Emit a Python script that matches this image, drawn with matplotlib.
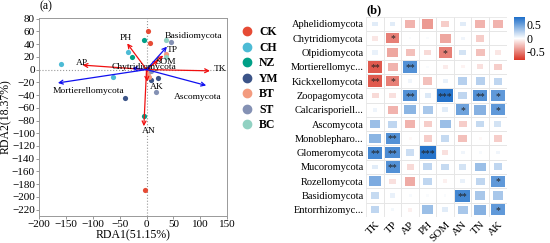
import numpy as np
import matplotlib
matplotlib.use('Agg')
import matplotlib.pyplot as plt
from matplotlib.colors import LinearSegmentedColormap, Normalize
from matplotlib.patches import Rectangle
from matplotlib.lines import Line2D

plt.rcParams['font.family'] = ['Liberation Serif', 'DejaVu Serif']

# ---- dados do painel (a): RDA ----
groups = ['CK', 'CH', 'NZ', 'YM', 'BT', 'ST', 'BC']
group_colors = ['#E64B35', '#4DBBD5', '#00A087', '#3C5488', '#F39B7F', '#8491B4', '#91D1C2']
pts_x = {
    'CK': [3, 7, -2],
    'CH': [-160, -35, -62],
    'NZ': [-5, -27, -5],
    'YM': [-41, 8, 22],
    'BT': [36, 3, 4],
    'ST': [46, 17, 8],
    'BC': [36, 37, 5],
}
pts_y = {
    'CK': [61, 42, -189],
    'CH': [8, 28, -12],
    'NZ': [46, 20, -73],
    'YM': [-44, -16, -14],
    'BT': [25, -6, -12],
    'ST': [43, -36, -3],
    'BC': [46, 20, 2],
}

env_names = ['TK', 'AP', 'PH', 'TP', 'SOM', 'AN', 'AK', 'TN']
env_x = [118, -119, -36, 31, 22, -5, 1, 8]
env_y = [-2, 7, 41, 22, 15, -89, -19, 3]
env_lab_x = [136, -120, -38, 48, 36, 5, 19, None]
env_lab_y = [1, 11, 50, 30, 12, -97, -27, None]

phy_names = ['Basidiomycota', 'Ascomycota', 'Mortierellomycota', 'Chytridiomycota']
phy_x = [38, 111, -165, -27]
phy_y = [36, -25, -21, 2]
phy_lab_x = [87, 95, -108, -5]
phy_lab_y = [53, -43, -33, 4]

# ---- dados do painel (b): correlacoes ----
phyla = ['Aphelidiomycota', 'Chytridiomycota', 'Olpidiomycota', 'Mortierellomyc...',
         'Kickxellomycota', 'Zoopagomycota', 'Calcarisporiell...', 'Ascomycota',
         'Monoblepharo...', 'Glomeromycota', 'Mucoromycota', 'Rozellomycota',
         'Basidiomycota', 'Entorrhizomyc...']
factors = ['TK', 'TP', 'AP', 'PH', 'SOM', 'AN', 'TN', 'AK']
corr = np.array([
    [0.10, 0.10, -0.30, -0.40, -0.20, 0.10, -0.30, -0.30],
    [-0.10, -0.50, 0.02, 0.02, -0.35, 0.05, -0.20, 0.00],
    [0.08, -0.35, -0.25, -0.15, -0.50, 0.15, -0.25, -0.10],
    [-0.65, -0.30, 0.60, 0.02, -0.08, -0.05, -0.12, -0.20],
    [-0.65, -0.50, 0.05, -0.25, 0.08, 0.25, 0.25, 0.22],
    [-0.15, -0.12, 0.60, 0.12, 0.75, 0.22, 0.60, 0.55],
    [0.06, -0.30, 0.40, 0.30, 0.10, 0.50, 0.42, 0.55],
    [0.35, 0.22, -0.30, -0.20, 0.35, -0.20, 0.20, 0.15],
    [0.40, 0.60, -0.03, -0.20, 0.20, -0.25, -0.03, -0.20],
    [0.65, 0.62, 0.18, 0.75, -0.12, 0.05, 0.03, 0.05],
    [0.10, 0.60, -0.15, 0.22, 0.20, 0.15, 0.35, 0.22],
    [0.45, -0.12, -0.33, 0.22, -0.06, 0.08, 0.22, 0.55],
    [0.20, 0.08, 0.03, 0.02, 0.02, 0.65, 0.30, 0.30],
    [0.22, 0.04, -0.06, 0.35, 0.10, 0.30, 0.42, 0.55],
])
signif = [
    ['', '', '', '', '', '', '', ''],
    ['', '*', '', '', '', '', '', ''],
    ['', '', '', '', '*', '', '', ''],
    ['**', '', '**', '', '', '', '', ''],
    ['**', '*', '', '', '', '', '', ''],
    ['', '', '**', '', '***', '', '**', '*'],
    ['', '', '', '', '', '*', '', '*'],
    ['', '', '', '', '', '', '', ''],
    ['', '**', '', '', '', '', '', ''],
    ['**', '**', '', '***', '', '', '', ''],
    ['', '**', '', '', '', '', '', ''],
    ['', '', '', '', '', '', '', '*'],
    ['', '', '', '', '', '**', '', ''],
    ['', '', '', '', '', '', '', '*'],
]

fig = plt.figure(figsize=(5.5, 2.43), dpi=100)

# ---------------- painel (a) ----------------
ax = fig.add_axes([0.071, 0.111, 0.342, 0.815])
ax.axvline(0, color='#999999', ls=':', lw=0.8, zorder=0)
ax.axhline(0, color='#999999', ls=':', lw=0.8, zorder=0)
for g, c in zip(groups, group_colors):
    ax.scatter(pts_x[g], pts_y[g], s=14, color=c, zorder=3, linewidths=0)

for i, n in enumerate(env_names):
    ax.annotate('', xy=(env_x[i], env_y[i]), xytext=(0, 0),
                arrowprops=dict(arrowstyle='->', color='#F01010', lw=0.9,
                                shrinkA=0, shrinkB=0, mutation_scale=7), zorder=4)
    if env_lab_x[i] is not None:
        ax.text(env_lab_x[i], env_lab_y[i], n, fontsize=6.8, ha='center', va='center', zorder=5)

for i, n in enumerate(phy_names):
    ax.annotate('', xy=(phy_x[i], phy_y[i]), xytext=(0, 0),
                arrowprops=dict(arrowstyle='->', color='#1010F0', lw=0.9,
                                shrinkA=0, shrinkB=0, mutation_scale=7), zorder=4)
    ax.text(phy_lab_x[i], phy_lab_y[i], n, fontsize=6.8, ha='center', va='center', zorder=5)

ax.set_xlim(-200, 150)
ax.set_ylim(-230, 81)
ax.set_xticks(np.arange(-200, 151, 50))
ax.set_yticks(np.arange(-220, 81, 20))
ax.tick_params(labelsize=8, length=2, width=0.6, pad=1, color='#888888')
for s in ax.spines.values():
    s.set_color('#999999')
    s.set_linewidth(0.7)
ax.set_xlabel('RDA1(51.15%)', fontsize=8.5, labelpad=0)
ax.set_ylabel('RDA2(18.37%)', fontsize=8.5, labelpad=0)
ax.text(0.0, 1.03, '(a)', transform=ax.transAxes, fontsize=8.5, ha='left', va='bottom')

handles = [Line2D([], [], marker='o', ls='', color=c, markersize=6) for c in group_colors]
leg = ax.legend(handles, groups, loc='upper left', bbox_to_anchor=(1.0, 1.0),
                frameon=False, handletextpad=0.0, labelspacing=0.3,
                prop={'size': 8.5, 'weight': 'bold'}, borderaxespad=0.3)

# ---------------- painel (b) ----------------
cmap = LinearSegmentedColormap.from_list('rb', ['#D93425', '#ffffff', '#1A6CC8'])
norm = Normalize(vmin=-0.8, vmax=0.8)
bx = fig.add_axes([0.666, 0.107, 0.255, 0.824])
nr, nc = corr.shape
for i in range(nr):
    for j in range(nc):
        bx.add_patch(Rectangle((j - 0.5, i - 0.5), 1, 1, fill=False,
                               edgecolor='#e6e6e6', lw=0.6))
        r = corr[i, j]
        side = 0.9 * np.sqrt(abs(r) / 0.75)
        side = min(side, 0.95)
        bx.add_patch(Rectangle((j - side / 2, i - side / 2), side, side,
                               facecolor=cmap(norm(r)), edgecolor='none'))
        if signif[i][j]:
            bx.text(j, i + 0.05, signif[i][j], ha='center', va='center',
                    fontsize=7, color='#222222')
bx.set_xlim(-0.5, nc - 0.5)
bx.set_ylim(nr - 0.5, -0.5)
bx.set_xticks(range(nc))
bx.set_xticklabels(factors, rotation=45, ha='right', rotation_mode='anchor', fontsize=8)
bx.set_yticks(range(nr))
bx.set_yticklabels(phyla, fontsize=7.5)
bx.tick_params(length=0, pad=2)
for s in bx.spines.values():
    s.set_visible(False)
bx.text(-0.5, -0.55, '(b)', fontsize=9, fontweight='bold', ha='left', va='bottom')

cax = fig.add_axes([0.935, 0.753, 0.02, 0.178])
sm = plt.cm.ScalarMappable(norm=norm, cmap=cmap)
cb = fig.colorbar(sm, cax=cax, ticks=[0.5, 0, -0.5])
cb.ax.set_yticklabels(['0.5', '0', '-0.5'])
cb.ax.tick_params(labelsize=8.5, length=0, pad=1)
cb.outline.set_visible(False)

fig.savefig('out.png', dpi=100)
